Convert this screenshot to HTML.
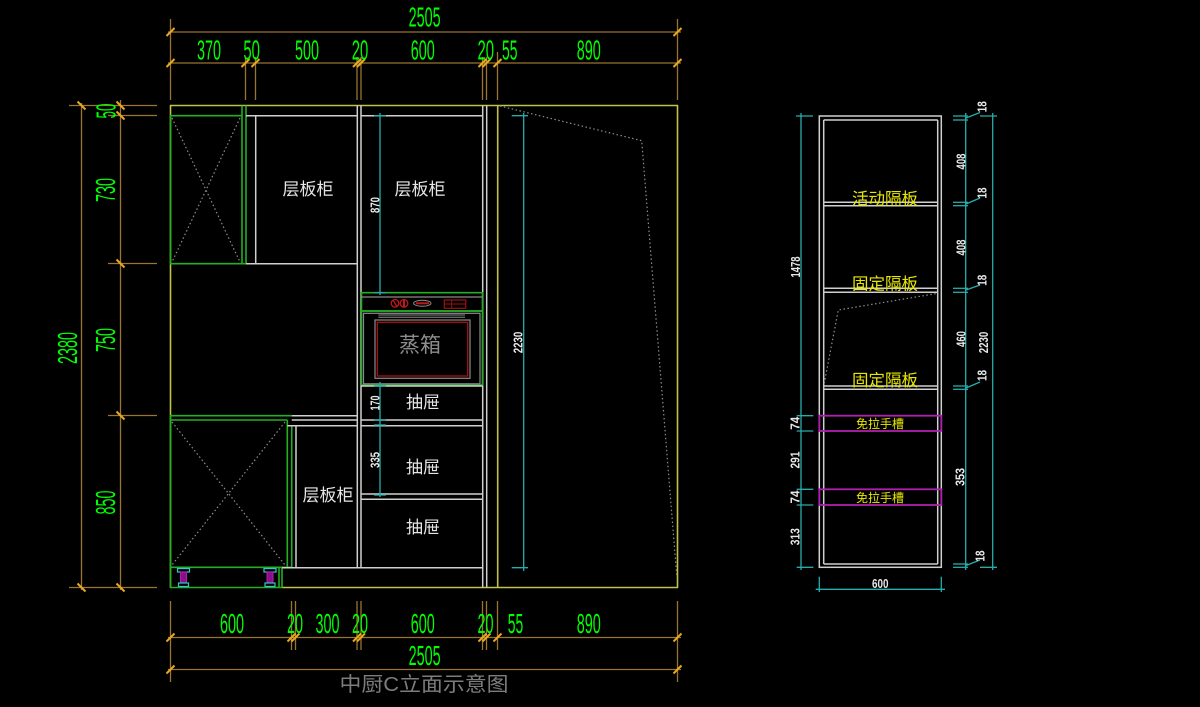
<!DOCTYPE html>
<html><head><meta charset="utf-8"><style>
html,body{margin:0;padding:0;background:#000;}
svg{display:block}
.d{fill:#00ff00;font-family:"Liberation Sans",sans-serif;font-size:28px;}
.w{fill:#e8e8e8;font-family:"Liberation Sans",sans-serif;font-size:13px;font-weight:bold;}
.cj{fill:#e6e6e6;font-family:"Liberation Sans","Noto Sans CJK SC",sans-serif;font-size:17px;}
.yl{fill:#e8e800;font-family:"Liberation Sans","Noto Sans CJK SC",sans-serif;font-size:16.5px;}
.ys{fill:#e8e800;font-family:"Liberation Sans","Noto Sans CJK SC",sans-serif;font-size:12px;}
.dim{stroke:#9a7430;stroke-width:1.3;fill:none}
.tk{stroke:#e8a820;stroke-width:2;fill:none}
.wl{stroke:#cfcfcf;stroke-width:1.5;fill:none}
.gl{stroke:#22b022;stroke-width:1.6;fill:none}
.yf{stroke:#c2c24a;stroke-width:1.6;fill:none}
.cy{stroke:#26acac;stroke-width:1.3;fill:none}
.mg{stroke:#b020b0;stroke-width:1.8;fill:none}
.dt{stroke:#8c8c8c;stroke-width:1.2;fill:none;stroke-dasharray:1.5 2.5}
</style></head><body>
<svg width="1200" height="707" viewBox="0 0 1200 707" xmlns="http://www.w3.org/2000/svg">
<rect width="1200" height="707" fill="#000"/>

<!-- ===== TOP DIMENSIONS ===== -->
<g class="dim">
<line x1="168" y1="32" x2="681" y2="32"/>
<line x1="168" y1="63" x2="681" y2="63"/>
<line x1="170.5" y1="19" x2="170.5" y2="100"/>
<line x1="677.5" y1="19" x2="677.5" y2="100"/>
<line x1="245.5" y1="57" x2="245.5" y2="100"/>
<line x1="255.5" y1="57" x2="255.5" y2="100"/>
<line x1="357" y1="57" x2="357" y2="100"/>
<line x1="361" y1="57" x2="361" y2="100"/>
<line x1="482.5" y1="57" x2="482.5" y2="100"/>
<line x1="486.5" y1="57" x2="486.5" y2="100"/>
<line x1="497.5" y1="52" x2="497.5" y2="100"/>
</g>
<g class="tk">
<path d="M166.5 36L174.5 28M673.5 36L681.5 28"/>
<path d="M166.5 67L174.5 59M241.5 67L249.5 59M251.5 67L259.5 59M353 67L361 59M357 67L365 59M478.5 67L486.5 59M482.5 67L490.5 59M493.5 67L501.5 59M673.5 67L681.5 59"/>
</g>
<text class="d" x="408.6" y="26.5" textLength="32" lengthAdjust="spacingAndGlyphs">2505</text>
<text class="d" x="197" y="59.5" textLength="24" lengthAdjust="spacingAndGlyphs">370</text>
<text class="d" x="243.4" y="59.5" textLength="16.5" lengthAdjust="spacingAndGlyphs">50</text>
<text class="d" x="295" y="59.5" textLength="24" lengthAdjust="spacingAndGlyphs">500</text>
<text class="d" x="351.8" y="59.5" textLength="16.5" lengthAdjust="spacingAndGlyphs">20</text>
<text class="d" x="410.8" y="59.5" textLength="24" lengthAdjust="spacingAndGlyphs">600</text>
<text class="d" x="477.5" y="59.5" textLength="16.5" lengthAdjust="spacingAndGlyphs">20</text>
<text class="d" x="502" y="59.5" textLength="15.5" lengthAdjust="spacingAndGlyphs">55</text>
<text class="d" x="576.7" y="59.5" textLength="24" lengthAdjust="spacingAndGlyphs">890</text>

<!-- ===== BOTTOM DIMENSIONS ===== -->
<g class="dim">
<line x1="168" y1="637.5" x2="681" y2="637.5"/>
<line x1="168" y1="669.5" x2="681" y2="669.5"/>
<line x1="170.5" y1="601" x2="170.5" y2="682"/>
<line x1="677.5" y1="601" x2="677.5" y2="682"/>
<line x1="291.5" y1="601" x2="291.5" y2="650"/>
<line x1="295.5" y1="601" x2="295.5" y2="650"/>
<line x1="357" y1="601" x2="357" y2="650"/>
<line x1="361" y1="601" x2="361" y2="650"/>
<line x1="482.5" y1="601" x2="482.5" y2="650"/>
<line x1="486.5" y1="601" x2="486.5" y2="650"/>
<line x1="497.5" y1="601" x2="497.5" y2="650"/>
</g>
<g class="tk">
<path d="M166.5 641.5L174.5 633.5M287.5 641.5L295.5 633.5M291.5 641.5L299.5 633.5M353 641.5L361 633.5M357 641.5L365 633.5M478.5 641.5L486.5 633.5M482.5 641.5L490.5 633.5M493.5 641.5L501.5 633.5M673.5 641.5L681.5 633.5"/>
<path d="M166.5 673.5L174.5 665.5M673.5 673.5L681.5 665.5"/>
</g>
<text class="d" x="220" y="633" textLength="24" lengthAdjust="spacingAndGlyphs">600</text>
<text class="d" x="287" y="633" textLength="16" lengthAdjust="spacingAndGlyphs">20</text>
<text class="d" x="315.5" y="633" textLength="24" lengthAdjust="spacingAndGlyphs">300</text>
<text class="d" x="352" y="633" textLength="16" lengthAdjust="spacingAndGlyphs">20</text>
<text class="d" x="410.8" y="633" textLength="24" lengthAdjust="spacingAndGlyphs">600</text>
<text class="d" x="477.5" y="633" textLength="16" lengthAdjust="spacingAndGlyphs">20</text>
<text class="d" x="507.8" y="633" textLength="15.5" lengthAdjust="spacingAndGlyphs">55</text>
<text class="d" x="576.7" y="633" textLength="24" lengthAdjust="spacingAndGlyphs">890</text>
<text class="d" x="408.6" y="665" textLength="32" lengthAdjust="spacingAndGlyphs">2505</text>
<text x="339.5" y="691" textLength="169" lengthAdjust="spacingAndGlyphs" style="fill:#7c7c7c;font-family:'Liberation Sans','Noto Sans CJK SC',sans-serif;font-size:20px;">中厨C立面示意图</text>

<!-- ===== LEFT DIMENSIONS ===== -->
<g class="dim">
<line x1="81.5" y1="103" x2="81.5" y2="590"/>
<line x1="120.5" y1="100" x2="120.5" y2="590"/>
<line x1="69" y1="105.5" x2="157" y2="105.5"/>
<line x1="69" y1="587.5" x2="157" y2="587.5"/>
<line x1="108" y1="115.5" x2="157" y2="115.5"/>
<line x1="108" y1="263.5" x2="157" y2="263.5"/>
<line x1="108" y1="415.5" x2="157" y2="415.5"/>
</g>
<g class="tk">
<path d="M77.5 101.5L85.5 109.5M77.5 583.5L85.5 591.5"/>
<path d="M116.5 101.5L124.5 109.5M116.5 111.5L124.5 119.5M116.5 259.5L124.5 267.5M116.5 411.5L124.5 419.5M116.5 583.5L124.5 591.5"/>
</g>
<g transform="translate(67,348) rotate(-90)"><text class="d" x="-16" y="10" textLength="32" lengthAdjust="spacingAndGlyphs">2380</text></g>
<g transform="translate(106,111) rotate(-90)"><text class="d" x="-7.5" y="9.5" textLength="15" lengthAdjust="spacingAndGlyphs">50</text></g>
<g transform="translate(105.5,190) rotate(-90)"><text class="d" x="-12" y="9.5" textLength="24" lengthAdjust="spacingAndGlyphs">730</text></g>
<g transform="translate(105.5,340) rotate(-90)"><text class="d" x="-12" y="9.5" textLength="24" lengthAdjust="spacingAndGlyphs">750</text></g>
<g transform="translate(105.5,502.5) rotate(-90)"><text class="d" x="-12" y="9.5" textLength="24" lengthAdjust="spacingAndGlyphs">850</text></g>

<!-- ===== MAIN ELEVATION ===== -->
<!-- yellow frame -->
<g class="yf">
<line x1="170" y1="105.5" x2="678" y2="105.5"/>
<line x1="170.5" y1="105" x2="170.5" y2="588"/>
<line x1="677.5" y1="105" x2="677.5" y2="588"/>
<line x1="282" y1="587.5" x2="678" y2="587.5"/>
<line x1="497.7" y1="105" x2="497.7" y2="588"/>
</g>

<!-- upper left door (green) -->
<g class="gl">
<line x1="170.5" y1="115.7" x2="170.5" y2="263.7"/>
<line x1="170" y1="115.7" x2="242" y2="115.7"/>
<line x1="242" y1="105.5" x2="242" y2="263.7"/>
<line x1="246" y1="105.5" x2="246" y2="263.7"/>
<line x1="170" y1="263.7" x2="246" y2="263.7"/>
</g>
<path class="dt" d="M172 118L240 262M240 118L172 262"/>

<!-- upper shelf cabinet white -->
<g class="wl">
<line x1="246" y1="115.7" x2="357.3" y2="115.7"/>
<line x1="255.7" y1="115.7" x2="255.7" y2="263.7"/>
<line x1="246" y1="263.7" x2="357.3" y2="263.7"/>
<line x1="357.3" y1="105.5" x2="357.3" y2="567.7"/>
<line x1="361" y1="105.5" x2="361" y2="567.7"/>
<line x1="361" y1="115.7" x2="482.7" y2="115.7"/>
<line x1="482.7" y1="105.5" x2="482.7" y2="587.5"/>
<line x1="486.7" y1="105.5" x2="486.7" y2="587.5"/>
</g>
<text class="cj" x="308" y="195" text-anchor="middle">层板柜</text>
<text class="cj" x="420" y="195" text-anchor="middle">层板柜</text>

<!-- lower left door -->
<g class="gl">
<line x1="170" y1="415.7" x2="291.7" y2="415.7"/>
<line x1="170" y1="420" x2="287.3" y2="420"/>
<line x1="170.5" y1="415.7" x2="170.5" y2="588"/>
<line x1="287.3" y1="420" x2="287.3" y2="567.5"/>
<line x1="291.7" y1="425.7" x2="291.7" y2="567.5"/>
<line x1="170" y1="567.3" x2="291.7" y2="567.3"/>
<line x1="170" y1="587.5" x2="282" y2="587.5"/>
<line x1="279" y1="567.3" x2="279" y2="587.5"/>
<line x1="282" y1="567.3" x2="282" y2="587.5"/>
</g>
<path class="dt" d="M172 422L285 565M285 422L172 565"/>
<!-- legs -->
<g>
<rect x="177.5" y="568.5" width="12" height="3.5" fill="none" stroke="#30c8d0" stroke-width="1.2"/>
<rect x="180.5" y="572" width="6" height="11" fill="#8a108a" stroke="#b020b0" stroke-width="1"/>
<rect x="178.5" y="583" width="10" height="3.5" fill="none" stroke="#30c8d0" stroke-width="1.2"/>
<rect x="264" y="568.5" width="12" height="3.5" fill="none" stroke="#30c8d0" stroke-width="1.2"/>
<rect x="267" y="572" width="6" height="11" fill="#8a108a" stroke="#b020b0" stroke-width="1"/>
<rect x="265" y="583" width="10" height="3.5" fill="none" stroke="#30c8d0" stroke-width="1.2"/>
</g>

<!-- lower shelf cabinet white -->
<g class="wl">
<line x1="291.7" y1="415.7" x2="357.3" y2="415.7"/>
<line x1="291.7" y1="420" x2="357.3" y2="420"/>
<line x1="287.3" y1="425.7" x2="357.3" y2="425.7"/>
<line x1="296" y1="425.7" x2="296" y2="567.7"/>
<line x1="282" y1="567.7" x2="482.7" y2="567.7"/>
</g>
<text class="cj" x="328" y="501" text-anchor="middle">层板柜</text>

<!-- oven -->
<g>
<rect x="361.5" y="292.7" width="121" height="18.3" fill="none" stroke="#22b022" stroke-width="1.6"/>
<line x1="361" y1="297" x2="482.7" y2="297" stroke="#8a8a8a" stroke-width="1.2"/>
<rect x="361.5" y="311" width="121" height="74" fill="none" stroke="#22b022" stroke-width="1.6"/>
<rect x="363.5" y="313.3" width="116.5" height="70.5" fill="none" stroke="#8a8a8a" stroke-width="1.2"/>
<rect x="375" y="320" width="95" height="58.3" fill="none" stroke="#8a8a8a" stroke-width="1.2"/>
<rect x="377.3" y="322.3" width="90.4" height="53.7" fill="none" stroke="#a01010" stroke-width="1.4"/>
<line x1="378.3" y1="315" x2="465" y2="315" stroke="#8a8a8a" stroke-width="1"/>
<line x1="378.3" y1="317.3" x2="465" y2="317.3" stroke="#8a8a8a" stroke-width="1"/>
<circle cx="395" cy="303.3" r="3.8" fill="none" stroke="#c01818" stroke-width="1.3"/>
<line x1="393" y1="300" x2="397" y2="306.5" stroke="#c01818" stroke-width="1.3"/>
<circle cx="404" cy="303.3" r="3.8" fill="none" stroke="#c01818" stroke-width="1.3"/>
<line x1="404" y1="299.5" x2="404" y2="307" stroke="#c01818" stroke-width="2"/>
<ellipse cx="422.3" cy="303.3" rx="8.7" ry="3" fill="none" stroke="#8a8a8a" stroke-width="1"/>
<line x1="416" y1="303.3" x2="429" y2="303.3" stroke="#c01818" stroke-width="2"/>
<rect x="444.3" y="300" width="21.4" height="8.3" fill="none" stroke="#a01010" stroke-width="1.2"/>
<line x1="444.3" y1="304" x2="465.7" y2="304" stroke="#a01010" stroke-width="1"/>
<line x1="451.7" y1="300" x2="451.7" y2="308.3" stroke="#a01010" stroke-width="1"/>
<text x="420" y="352" text-anchor="middle" style="fill:#8c8c8c;font-family:'Liberation Sans','Noto Sans CJK SC',sans-serif;font-size:21px;">蒸箱</text>
</g>

<!-- drawers -->
<g class="wl">
<line x1="361" y1="386" x2="482.7" y2="386"/>
<line x1="361" y1="420" x2="482.7" y2="420"/>
<line x1="361" y1="425.7" x2="482.7" y2="425.7"/>
<line x1="361" y1="494" x2="482.7" y2="494"/>
<line x1="361" y1="499.3" x2="482.7" y2="499.3"/>
</g>
<text class="cj" x="423" y="408" text-anchor="middle">抽屉</text>
<text class="cj" x="423" y="473" text-anchor="middle">抽屉</text>
<text class="cj" x="423" y="533" text-anchor="middle">抽屉</text>

<!-- cyan dims in main -->
<g class="cy">
<line x1="380" y1="113" x2="380" y2="295"/>
<line x1="374" y1="115.7" x2="386" y2="115.7"/>
<line x1="374" y1="292.7" x2="386" y2="292.7"/>
<line x1="380" y1="382" x2="380" y2="497"/>
<line x1="374" y1="386" x2="386" y2="386"/>
<line x1="374" y1="420" x2="386" y2="420"/>
<line x1="374" y1="425" x2="386" y2="425"/>
<line x1="374" y1="495" x2="386" y2="495"/>
<line x1="523.7" y1="113" x2="523.7" y2="571"/>
<line x1="511.7" y1="115.7" x2="528" y2="115.7"/>
<line x1="511.7" y1="567.7" x2="528" y2="567.7"/>
</g>
<g transform="translate(375,205) rotate(-90)"><text class="w" x="-8" y="4.6" textLength="16" lengthAdjust="spacingAndGlyphs">870</text></g>
<g transform="translate(375,403) rotate(-90)"><text class="w" x="-7.5" y="4.6" textLength="15" lengthAdjust="spacingAndGlyphs">170</text></g>
<g transform="translate(375,460) rotate(-90)"><text class="w" x="-8" y="4.6" textLength="16" lengthAdjust="spacingAndGlyphs">335</text></g>
<g transform="translate(518,342.5) rotate(-90)"><text class="w" x="-10.8" y="4.6" textLength="21.6" lengthAdjust="spacingAndGlyphs">2230</text></g>

<!-- right door swing -->
<path class="dt" d="M500 106L641.7 140.7L676.7 575"/>

<!-- ===== SIDE ELEVATION ===== -->
<g class="wl">
<rect x="819.3" y="116" width="122" height="451.3"/>
<line x1="823.7" y1="120" x2="823.7" y2="564"/>
<line x1="937.7" y1="120" x2="937.7" y2="564"/>
<line x1="823.7" y1="120" x2="937.7" y2="120"/>
<line x1="823.7" y1="202.3" x2="937.7" y2="202.3"/>
<line x1="823.7" y1="205.7" x2="937.7" y2="205.7"/>
<line x1="823.7" y1="288.3" x2="937.7" y2="288.3"/>
<line x1="823.7" y1="292.3" x2="937.7" y2="292.3"/>
<line x1="823.7" y1="386" x2="937.7" y2="386"/>
<line x1="823.7" y1="389.3" x2="937.7" y2="389.3"/>
<line x1="823.7" y1="564" x2="937.7" y2="564"/>
</g>
<rect class="mg" x="819.3" y="415.7" width="122" height="15.3"/>
<rect class="mg" x="819.3" y="489.3" width="122" height="15.7"/>
<path class="dt" d="M935.7 293.7L838.3 310L824.3 383"/>
<text class="yl" x="885" y="204.5" text-anchor="middle">活动隔板</text>
<text class="yl" x="885" y="289.5" text-anchor="middle">固定隔板</text>
<text class="yl" x="885" y="386" text-anchor="middle">固定隔板</text>
<text class="ys" x="880" y="428" text-anchor="middle">免拉手槽</text>
<text class="ys" x="880" y="502" text-anchor="middle">免拉手槽</text>

<!-- side dims left -->
<g class="cy">
<line x1="801" y1="113" x2="801" y2="570"/>
<line x1="796" y1="116" x2="813" y2="116"/>
<line x1="796.7" y1="415.7" x2="813.3" y2="415.7"/>
<line x1="796.7" y1="431" x2="813.3" y2="431"/>
<line x1="796.7" y1="489.3" x2="813.3" y2="489.3"/>
<line x1="796.7" y1="505" x2="813.3" y2="505"/>
<line x1="796.7" y1="567.3" x2="813.3" y2="567.3"/>
</g>
<g transform="translate(795.5,267) rotate(-90)"><text class="w" x="-10.5" y="4.6" textLength="21" lengthAdjust="spacingAndGlyphs">1478</text></g>
<g transform="translate(795,423.3) rotate(-90)"><text class="w" x="-6.5" y="4.6" textLength="13" lengthAdjust="spacingAndGlyphs">74</text></g>
<g transform="translate(795,460) rotate(-90)"><text class="w" x="-8.5" y="4.6" textLength="17" lengthAdjust="spacingAndGlyphs">291</text></g>
<g transform="translate(795,497) rotate(-90)"><text class="w" x="-6.5" y="4.6" textLength="13" lengthAdjust="spacingAndGlyphs">74</text></g>
<g transform="translate(795,536.7) rotate(-90)"><text class="w" x="-8.5" y="4.6" textLength="17" lengthAdjust="spacingAndGlyphs">313</text></g>

<!-- side dims right -->
<g class="cy">
<line x1="965.7" y1="113" x2="965.7" y2="570"/>
<line x1="992.7" y1="113" x2="992.7" y2="570"/>
<line x1="953" y1="116" x2="968" y2="116"/>
<line x1="953" y1="120" x2="968" y2="120"/>
<line x1="953" y1="202.3" x2="968" y2="202.3"/>
<line x1="953" y1="205.7" x2="968" y2="205.7"/>
<line x1="953" y1="288.3" x2="968" y2="288.3"/>
<line x1="953" y1="292.3" x2="968" y2="292.3"/>
<line x1="953" y1="386" x2="968" y2="386"/>
<line x1="953" y1="389.3" x2="968" y2="389.3"/>
<line x1="953" y1="564" x2="968" y2="564"/>
<line x1="953" y1="567.3" x2="968" y2="567.3"/>
<line x1="980" y1="116" x2="997" y2="116"/>
<line x1="980" y1="567.3" x2="997" y2="567.3"/>
<path d="M966 118L980 112.5M966 204L980 198M966 290L980 285M966 388L980 382M966 565.5L980 560"/>
</g>
<g transform="translate(961,161.5) rotate(-90)"><text class="w" x="-8" y="4.6" textLength="16" lengthAdjust="spacingAndGlyphs">408</text></g>
<g transform="translate(961,247.5) rotate(-90)"><text class="w" x="-8" y="4.6" textLength="16" lengthAdjust="spacingAndGlyphs">408</text></g>
<g transform="translate(961,339) rotate(-90)"><text class="w" x="-8" y="4.6" textLength="16" lengthAdjust="spacingAndGlyphs">460</text></g>
<g transform="translate(960,477) rotate(-90)"><text class="w" x="-9" y="4.6" textLength="18" lengthAdjust="spacingAndGlyphs">353</text></g>
<g transform="translate(983.5,342.5) rotate(-90)"><text class="w" x="-10.8" y="4.6" textLength="21.6" lengthAdjust="spacingAndGlyphs">2230</text></g>
<g transform="translate(982,106.7) rotate(-90)"><text class="w" x="-5.5" y="4.6" textLength="11" lengthAdjust="spacingAndGlyphs">18</text></g>
<g transform="translate(982,193) rotate(-90)"><text class="w" x="-5.5" y="4.6" textLength="11" lengthAdjust="spacingAndGlyphs">18</text></g>
<g transform="translate(982,280.3) rotate(-90)"><text class="w" x="-5.5" y="4.6" textLength="11" lengthAdjust="spacingAndGlyphs">18</text></g>
<g transform="translate(982,375.5) rotate(-90)"><text class="w" x="-5.5" y="4.6" textLength="11" lengthAdjust="spacingAndGlyphs">18</text></g>
<g transform="translate(980,556) rotate(-90)"><text class="w" x="-5.5" y="4.6" textLength="11" lengthAdjust="spacingAndGlyphs">18</text></g>

<!-- side bottom dim -->
<g class="cy">
<line x1="815.7" y1="589.3" x2="945" y2="589.3"/>
<line x1="819.3" y1="576.7" x2="819.3" y2="592"/>
<line x1="941.3" y1="576.7" x2="941.3" y2="592"/>
</g>
<text class="w" x="872" y="588" textLength="16.5" lengthAdjust="spacingAndGlyphs">600</text>
</svg>
</body></html>
